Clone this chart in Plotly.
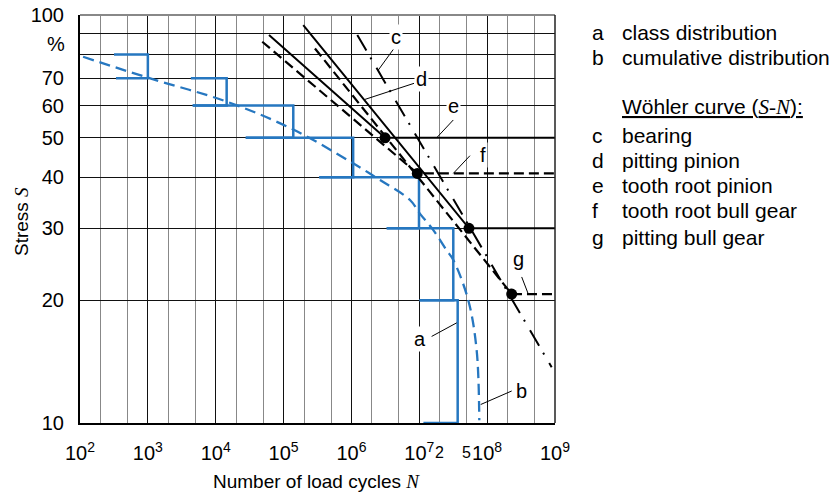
import math
import plotly.graph_objects as go

# ---------------- data ----------------
# class distribution (a): brackets per stress class
class_upper = [80, 70, 60, 50, 40, 30, 20]
class_lower = [70, 60, 50, 40, 30, 20, 10]
class_cycles = [1.0e3, 1.45e4, 1.39e5, 1.06e6, 9.9e6, 3.17e7, 3.68e7]
class_top_left = [3.17e2, 4.3e3, 4.58e3, 2.77e4, 3.36e5, 3.31e6, 1.01e7]
class_bottom_left = [3.39e2, 4.58e3, 2.77e4, 3.36e5, 3.31e6, 1.01e7, 1.15e7]

# cumulative distribution (b)
cum_N = [1.11e2, 1.0e3, 1.465e4, 1.39e5, 1.06e6, 2.64e6, 7.3e6, 1.02e7, 1.61e7,
         2.53e7, 3.17e7, 5.27e7, 7.0e7, 7.66e7]
cum_S = [79.0, 70.2, 61.3, 52.4, 43.3, 39.4, 35.2, 32.6, 29.7, 26.5, 25.1, 20.0,
         15.1, 10.15]

# Wöhler curves: start point, knee point, end of horizontal
N_MAX = 1e9
c_N = [1.22e6, 8.93e8]
c_S = [89.3, 13.7]
d_N = [1.95e5, 5.4e7, N_MAX]
d_S = [94.5, 30.0, 30.0]
e_N = [6.1e4, 3.13e6, N_MAX]
e_S = [89.3, 50.0, 50.0]
f_N = [4.85e4, 9.35e6, N_MAX]
f_S = [86.0, 40.9, 40.9]
g_N = [2.9e5, 2.3e8, N_MAX]
g_S = [82.8, 20.7, 20.7]
knee_N = [3.13e6, 9.35e6, 5.4e7, 2.3e8]
knee_S = [50.0, 40.9, 30.0, 20.7]

# curve labels: text, label position, leader line (from, to)
labels = ["c", "d", "e", "f", "g", "a", "b"]
label_N = [4.49e6, 1.08e7, 3.17e7, 8.77e7, 2.88e8, 1.02e7, 3.23e8]
label_S = [88.5, 69.7, 59.8, 45.4, 25.3, 16.1, 12.0]
lead_N0 = [4.24e6, 8.36e6, 3.17e7, 5.58e7, 3.23e8, 1.52e7, 2.3e8]
lead_S0 = [82.8, 68.0, 55.3, 45.2, 22.8, 16.3, 11.98]
lead_N1 = [2.49e6, 1.58e6, 1.8e7, 3.17e7, 4.04e8, 3.56e7, 8.04e7]
lead_S1 = [73.3, 62.1, 50.0, 40.9, 20.7, 17.6, 11.1]

x_tick_vals = [1e2, 1e3, 1e4, 1e5, 1e6, 1e7, 1e8, 1e9]
x_tick_text = ["10<sup>%d</sup>" % k for k in range(2, 10)]
x_minor = [m * 10 ** k for k in range(2, 9) for m in (2, 5)]
x_extra_vals = [2e7, 5e7]
x_extra_text = ["2", "5"]
y_tick_vals = [10, 20, 30, 40, 50, 60, 70, 100]
y_tick_text = ["10", "20", "30", "40", "50", "60", "70", "100"]
y_minor = [80, 90]

legend_keys = ["a", "b", "", "c", "d", "e", "f", "g"]
legend_text = ["class distribution", "cumulative distribution",
               "<u>Wöhler curve (<span style='font-family:Liberation Serif'><i>S</i>-<i>N</i></span>):</u>",
               "bearing", "pitting pinion", "tooth root pinion",
               "tooth root bull gear", "pitting bull gear"]
legend_y = [33, 58, 107, 136, 161, 186, 211, 237]

BLUE = "#2677c0"
FONT = "Liberation Sans, Arial, sans-serif"
SERIF = "Liberation Serif"

W, H = 839, 498
ML, MR, MT, MB = 80, 284, 15, 75
pw, ph = W - ML - MR, H - MT - MB


def px_x(x):
    return (x - ML) / pw


def px_y(y):
    return (H - y - MB) / ph


fig = go.Figure()

# class distribution brackets
bx, by = [], []
for i in range(len(class_cycles)):
    bx += [class_top_left[i], class_cycles[i], class_cycles[i], class_bottom_left[i], None]
    by += [class_upper[i], class_upper[i], class_lower[i], class_lower[i], None]
fig.add_trace(go.Scatter(x=bx, y=by, mode="lines", line=dict(color=BLUE, width=2.5),
                         hoverinfo="skip"))
# cumulative distribution
fig.add_trace(go.Scatter(x=cum_N, y=cum_S, mode="lines", line_shape="spline",
                         line=dict(color=BLUE, width=2.3, dash="11px,6px"), hoverinfo="skip"))

# Wöhler curves
fig.add_trace(go.Scatter(x=c_N, y=c_S, mode="lines",
                         line=dict(color="black", width=2, dash="18px,8px,2px,10px")))
fig.add_trace(go.Scatter(x=d_N, y=d_S, mode="lines", line=dict(color="black", width=2)))
fig.add_trace(go.Scatter(x=e_N, y=e_S, mode="lines", line=dict(color="black", width=2)))
fig.add_trace(go.Scatter(x=f_N, y=f_S, mode="lines",
                         line=dict(color="black", width=2.2, dash="10px,5px")))
fig.add_trace(go.Scatter(x=g_N, y=g_S, mode="lines",
                         line=dict(color="black", width=2.2, dash="10px,5px")))
fig.add_trace(go.Scatter(x=knee_N, y=knee_S, mode="markers",
                         marker=dict(color="black", size=11)))

# leader lines
lx, ly = [], []
for i in range(len(labels)):
    lx += [lead_N0[i], lead_N1[i], None]
    ly += [lead_S0[i], lead_S1[i], None]
fig.add_trace(go.Scatter(x=lx, y=ly, mode="lines", line=dict(color="black", width=1)))

for i, t in enumerate(labels):
    fig.add_annotation(x=math.log10(label_N[i]), y=math.log10(label_S[i]),
                       xref="x", yref="y", text=t, showarrow=False,
                       bgcolor="white", borderpad=1,
                       font=dict(size=20, color="black", family=FONT))

# legend text block on right
for k, t, yy in zip(legend_keys, legend_text, legend_y):
    if k:
        fig.add_annotation(x=px_x(590), y=px_y(yy), xref="paper", yref="paper", text=k,
                           showarrow=False, xanchor="left", yanchor="middle",
                           font=dict(size=21, color="black", family=FONT))
    fig.add_annotation(x=px_x(620), y=px_y(yy), xref="paper", yref="paper", text=t,
                       showarrow=False, xanchor="left", yanchor="middle",
                       font=dict(size=21, color="black", family=FONT))

# "%" label, small "2", "5" labels, axis titles
fig.add_annotation(x=px_x(67), y=px_y(44), xref="paper", yref="paper",
                   text="%", showarrow=False, xanchor="right", yanchor="middle",
                   font=dict(size=20, color="black", family=FONT))
for val, txt in zip(x_extra_vals, x_extra_text):
    fig.add_annotation(x=math.log10(val), y=px_y(452), xref="x", yref="paper", text=txt,
                       showarrow=False, yanchor="middle",
                       font=dict(size=16, color="black", family=FONT))
fig.add_annotation(x=px_x(316), y=px_y(481), xref="paper", yref="paper",
                   text="Number of load cycles <span style='font-family:%s'><i>N</i></span>" % SERIF,
                   showarrow=False, yanchor="middle",
                   font=dict(size=19, color="black", family=FONT))
fig.add_annotation(x=px_x(21), y=px_y(222), xref="paper", yref="paper",
                   text="Stress <span style='font-family:%s'><i>S</i></span>" % SERIF,
                   showarrow=False, textangle=-90, xanchor="center", yanchor="middle",
                   font=dict(size=19, color="black", family=FONT))

fig.update_layout(
    width=W, height=H, margin=dict(l=ML, r=MR, t=MT, b=MB),
    paper_bgcolor="white", plot_bgcolor="white", showlegend=False,
    font=dict(family=FONT, size=20, color="black"),
    xaxis=dict(type="log", range=[2, 9], tickvals=x_tick_vals, ticktext=x_tick_text,
               showgrid=True, gridcolor="#111111", gridwidth=1.2,
               minor=dict(tickvals=x_minor, showgrid=True, gridcolor="#888888", gridwidth=1.2,
                          ticks=""),
               showline=True, linecolor="black", linewidth=2, ticks="",
               zeroline=False, tickfont=dict(size=20), ticklabelstandoff=11,
               automargin=False),
    yaxis=dict(type="log", range=[1, 2], tickvals=y_tick_vals, ticktext=y_tick_text,
               showgrid=True, gridcolor="#111111", gridwidth=1,
               minor=dict(tickvals=y_minor, showgrid=True, gridcolor="#111111", gridwidth=1,
                          ticks=""),
               showline=True, linecolor="black", linewidth=2, ticks="",
               zeroline=False, tickfont=dict(size=20), ticklabelstandoff=10,
               automargin=False),
)
fig.add_shape(type="line", xref="paper", yref="paper", x0=0, x1=1, y0=1, y1=1,
              line=dict(color="#888888", width=2))
fig.add_shape(type="line", xref="paper", yref="paper", x0=1, x1=1, y0=0, y1=1,
              line=dict(color="#222222", width=1.5))

fig.write_html("out.html")
